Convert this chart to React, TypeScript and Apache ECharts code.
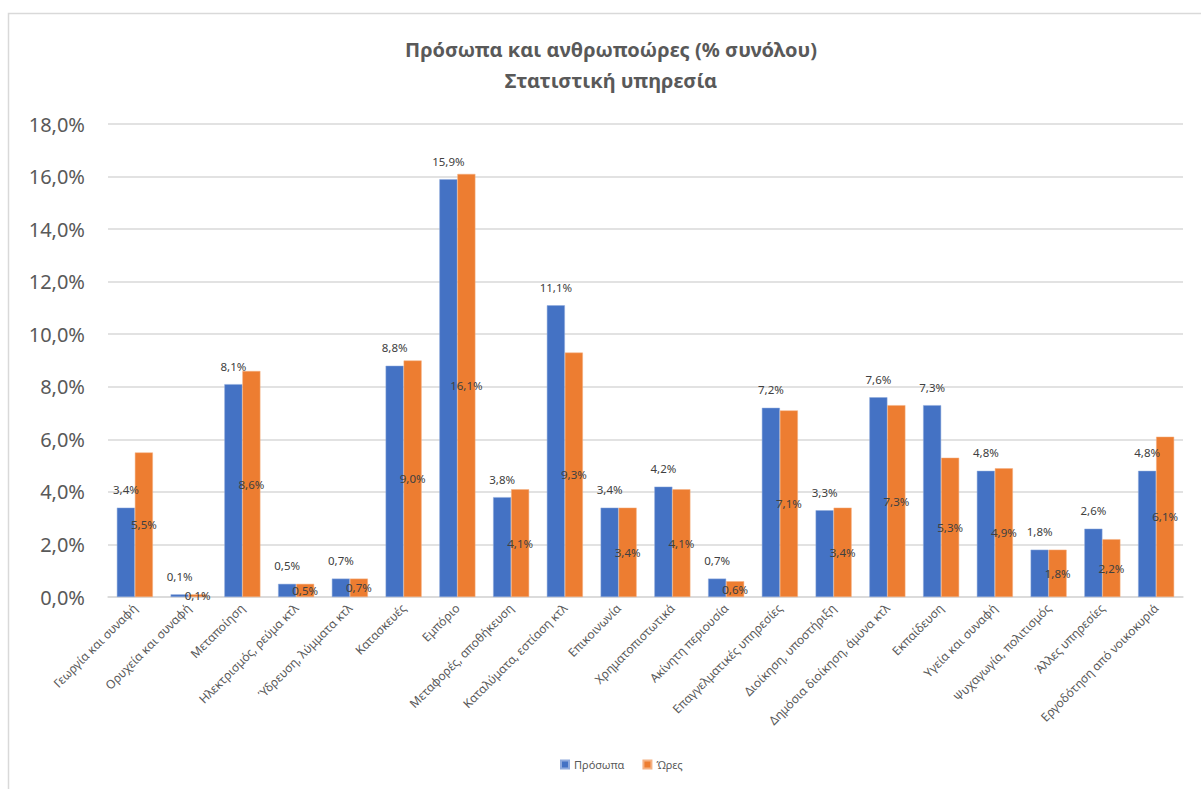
import React, { useEffect, useRef } from "react";
import * as echarts from "echarts";

// Sector names
const categories: string[] = [
  "Γεωργία και συναφή",
  "Ορυχεία και συναφή",
  "Μεταποίηση",
  "Ηλεκτρισμός, ρεύμα κτλ",
  "Ύδρευση, λύμματα κτλ",
  "Κατασκευές",
  "Εμπόριο",
  "Μεταφορές, αποθήκευση",
  "Καταλύματα, εστίαση κτλ",
  "Επικοινωνία",
  "Χρηματοπιστωτικά",
  "Ακίνητη περιουσία",
  "Επαγγελματικές υπηρεσίες",
  "Διοίκηση, υποστήριξη",
  "Δημόσια διοίκηση, άμυνα κτλ",
  "Εκπαίδευση",
  "Υγεία και συναφή",
  "Ψυχαγωγία, πολιτισμός",
  "Άλλες υπηρεσίες",
  "Εργοδότηση από νοικοκυριά",
];

// Share of persons (% of total)
const persons: number[] = [
  3.4, 0.1, 8.1, 0.5, 0.7, 8.8, 15.9, 3.8, 11.1, 3.4, 4.2, 0.7, 7.2, 3.3, 7.6,
  7.3, 4.8, 1.8, 2.6, 4.8,
];

// Share of hours worked (% of total)
const hours: number[] = [
  5.5, 0.1, 8.6, 0.5, 0.7, 9.0, 16.1, 4.1, 9.3, 3.4, 4.1, 0.6, 7.1, 3.4, 7.3,
  5.3, 4.9, 1.8, 2.2, 6.1,
];

const seriesNames: string[] = ["Πρόσωπα", "Ώρες"];

const pct = (v: number) => v.toFixed(1).replace(".", ",") + "%";

const FONT = "'Noto Sans', 'DejaVu Sans', sans-serif";

export default function App() {
  const ref = useRef<HTMLDivElement>(null);

  useEffect(() => {
    if (!ref.current) return;
    const chart = echarts.init(ref.current, null, { renderer: "svg" });
    chart.setOption({
      animation: false,
      backgroundColor: "#ffffff",
      textStyle: { fontFamily: FONT },
      graphic: [
        {
          type: "rect",
          shape: { x: 8.5, y: 13.5, width: 1250, height: 820 },
          style: { fill: "none", stroke: "#d9d9d9", lineWidth: 1.5 },
          silent: true,
        },
        {
          type: "text",
          x: 611,
          y: 49,
          style: {
            text: "Πρόσωπα και ανθρωποώρες (% συνόλου)",
            fill: "#595959",
            font: `bold 20px ${FONT}`,
            textAlign: "center",
            textVerticalAlign: "middle",
          },
        },
        {
          type: "text",
          x: 611,
          y: 80,
          style: {
            text: "Στατιστική υπηρεσία",
            fill: "#595959",
            font: `bold 20px ${FONT}`,
            textAlign: "center",
            textVerticalAlign: "middle",
          },
        },
      ],
      legend: {
        data: seriesNames,
        bottom: 14,
        left: 555,
        itemWidth: 8,
        itemHeight: 8,
        itemGap: 18,
        icon: "rect",
        textStyle: { color: "#595959", fontSize: 11, fontFamily: FONT },
      },
      grid: { left: 108, right: 18, top: 124, bottom: 192, containLabel: false },
      xAxis: {
        type: "category",
        data: categories,
        axisTick: { show: false },
        axisLine: { lineStyle: { color: "#d9d9d9", width: 1.5 } },
        axisLabel: {
          rotate: 45,
          interval: 0,
          margin: 9,
          color: "#595959",
          fontSize: 12,
          fontFamily: FONT,
        },
      },
      yAxis: {
        type: "value",
        min: 0,
        max: 18,
        interval: 2,
        axisLine: { show: false },
        axisTick: { show: false },
        splitLine: { lineStyle: { color: "#d9d9d9", width: 1.5 } },
        axisLabel: {
          margin: 23,
          color: "#595959",
          fontSize: 20,
          fontFamily: FONT,
          formatter: (v: number) => pct(v),
        },
      },
      series: [
        {
          name: seriesNames[0],
          type: "bar",
          data: persons,
          barGap: "0%",
          barCategoryGap: "33%",
          itemStyle: { color: "#4472C4", borderColor: "#8faadc", borderWidth: 0.5 },
          label: {
            show: true,
            position: "top",
            distance: 12,
            color: "#404040",
            fontSize: 11.5,
            fontFamily: FONT,
            formatter: (p: any) => pct(p.value),
          },
        },
        {
          name: seriesNames[1],
          type: "bar",
          data: hours,
          itemStyle: { color: "#ED7D31", borderColor: "#f4b183", borderWidth: 0.5 },
          label: {
            show: true,
            position: "inside",
            color: "#404040",
            fontSize: 11.5,
            fontFamily: FONT,
            formatter: (p: any) => pct(p.value),
          },
        },
      ],
    });
    return () => chart.dispose();
  }, []);

  return (
    <div
      ref={ref}
      style={{ position: "absolute", left: 0, top: 0, width: 1201, height: 789 }}
    />
  );
}
